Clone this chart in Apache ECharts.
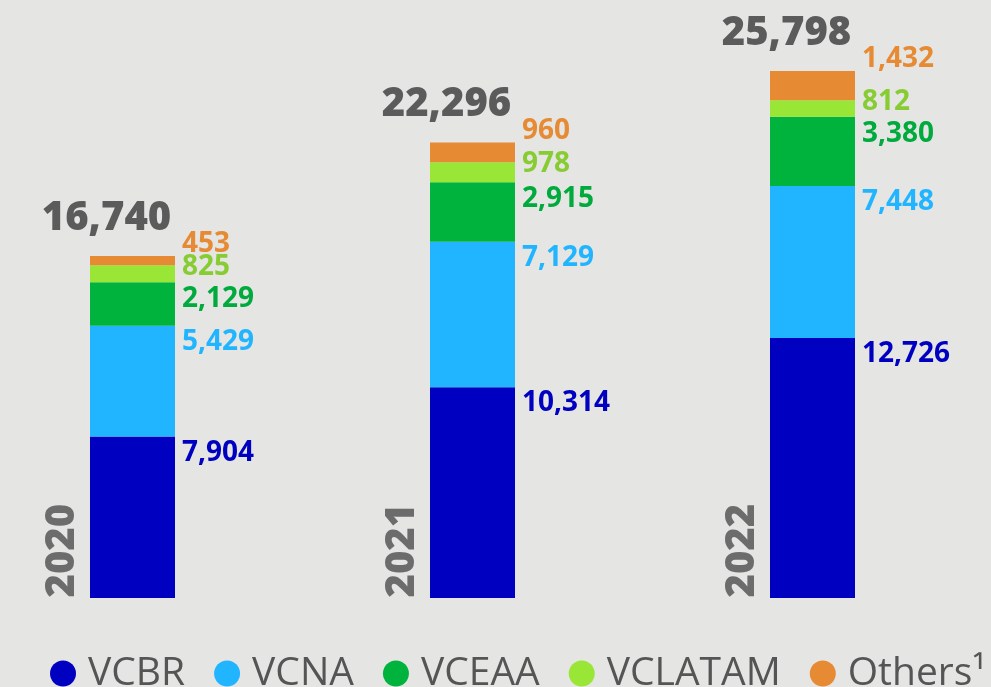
<!DOCTYPE html>
<html><head><meta charset="utf-8">
<script src="https://cdn.jsdelivr.net/npm/echarts@6/dist/echarts.min.js"></script>
<style>html,body{margin:0;padding:0;background:#e5e5e4;}#c{width:991px;height:687px;}</style>
</head><body><div id="c"></div>
<script>
const years = ['2020', '2021', '2022'];
const vcbr = [7904, 10314, 12726];
const vcna = [5429, 7129, 7448];
const vceaa = [2129, 2915, 3380];
const vclatam = [825, 978, 812];
const others = [453, 960, 1432];
const totals = [16740, 22296, 25798];
const seriesNames = ['VCBR', 'VCNA', 'VCEAA', 'VCLATAM', 'Others¹'];

const FONT = 'Open Sans';
const barColors = ['#0000c0', '#22b5ff', '#00b33c', '#99e636', '#e68a33'];
const labelColors = ['#0000c0', '#22b5ff', '#00aa3c', '#88cc33', '#e68a33'];
const labelOffsets = [16, 16, 17, 2, -12];
const dataSets = [vcbr, vcna, vceaa, vclatam, others];
const fmt = v => v.toLocaleString('en-US');

const series = dataSets.map((d, i) => ({
  name: seriesNames[i],
  type: 'bar',
  stack: 'total',
  barWidth: 85,
  data: d,
  itemStyle: { color: barColors[i] },
  label: {
    show: true,
    position: ['100%', 0],
    align: 'left',
    verticalAlign: 'middle',
    offset: [7, labelOffsets[i]],
    fontFamily: FONT,
    fontWeight: 'bold',
    fontSize: 28,
    color: labelColors[i],
    formatter: p => fmt(p.value)
  }
}));

series.push({
  type: 'scatter',
  data: totals,
  symbolSize: 1,
  itemStyle: { color: 'rgba(0,0,0,0)' },
  silent: true,
  label: {
    show: true,
    position: 'top',
    distance: 0,
    align: 'center',
    verticalAlign: 'middle',
    offset: [-26, -37],
    fontFamily: FONT,
    fontWeight: 800,
    fontSize: 40,
    color: '#383838',
    textBorderWidth: 0,
    formatter: p => fmt(p.value)
  }
});

series.push({
  type: 'scatter',
  data: years.map(() => 0),
  symbolSize: 1,
  itemStyle: { color: 'rgba(0,0,0,0)' },
  silent: true,
  label: {
    show: true,
    position: 'top',
    distance: 0,
    rotate: 90,
    align: 'left',
    verticalAlign: 'middle',
    offset: [0, -70],
    fontFamily: FONT,
    fontWeight: 800,
    fontSize: 40,
    color: '#4e4e4e',
    textBorderWidth: 0,
    formatter: p => years[p.dataIndex]
  }
});

const chart = echarts.init(document.getElementById('c'));
chart.setOption({
  backgroundColor: '#e5e5e4',
  animation: false,
  grid: { left: -37.5, right: 8.5, top: 71, bottom: 89, outerBoundsMode: 'none' },
  xAxis: {
    type: 'category',
    data: years,
    axisLine: { show: false },
    axisTick: { show: false },
    axisLabel: { show: false }
  },
  yAxis: {
    type: 'value',
    min: 0,
    max: v => v.max,
    show: false,
    splitLine: { show: false }
  },
  legend: {
    data: seriesNames,
    left: 50,
    top: 654,
    padding: 0,
    icon: 'circle',
    itemWidth: 26,
    itemHeight: 26,
    itemGap: 29,
    textStyle: { fontFamily: FONT, fontSize: 39, color: '#555555', padding: [0, 0, 0, 7] }
  },
  series: series
});
</script></body></html>
